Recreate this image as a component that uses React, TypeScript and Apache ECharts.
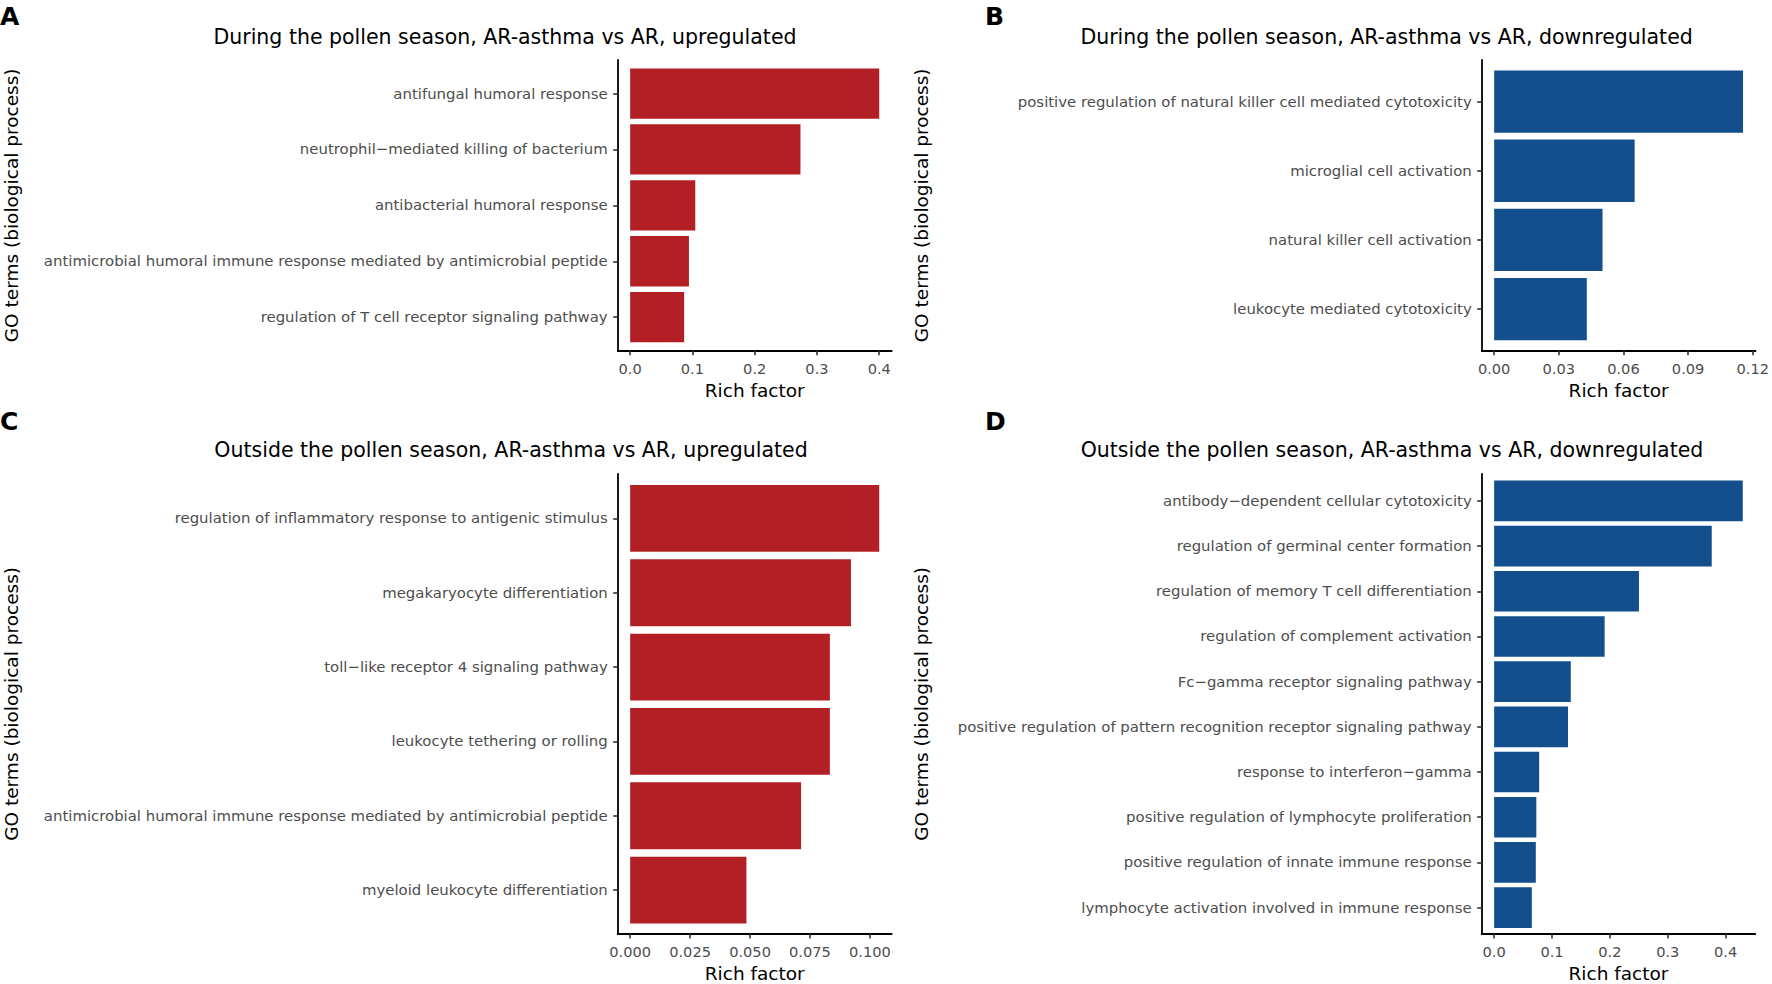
import React, { useEffect, useRef } from "react";
import * as echarts from "echarts";

const FONT = "DejaVu Sans";

// Panel A
const catsA = [
  "antifungal humoral response",
  "neutrophil−mediated killing of bacterium",
  "antibacterial humoral response",
  "antimicrobial humoral immune response mediated by antimicrobial peptide",
  "regulation of T cell receptor signaling pathway",
];
const valsA = [0.4, 0.2735, 0.1046, 0.0944, 0.0867];
const ticksA = [0, 0.1, 0.2, 0.3, 0.4];
const tickLabelsA = ["0.0", "0.1", "0.2", "0.3", "0.4"];

// Panel B
const catsB = [
  "positive regulation of natural killer cell mediated cytotoxicity",
  "microglial cell activation",
  "natural killer cell activation",
  "leukocyte mediated cytotoxicity",
];
const valsB = [0.1155, 0.0652, 0.0503, 0.043];
const ticksB = [0, 0.03, 0.06, 0.09, 0.12];
const tickLabelsB = ["0.00", "0.03", "0.06", "0.09", "0.12"];

// Panel C
const catsC = [
  "regulation of inflammatory response to antigenic stimulus",
  "megakaryocyte differentiation",
  "toll−like receptor 4 signaling pathway",
  "leukocyte tethering or rolling",
  "antimicrobial humoral immune response mediated by antimicrobial peptide",
  "myeloid leukocyte differentiation",
];
const valsC = [0.1039, 0.0921, 0.0833, 0.0833, 0.0713, 0.0485];
const ticksC = [0, 0.025, 0.05, 0.075, 0.1];
const tickLabelsC = ["0.000", "0.025", "0.050", "0.075", "0.100"];

// Panel D
const catsD = [
  "antibody−dependent cellular cytotoxicity",
  "regulation of germinal center formation",
  "regulation of memory T cell differentiation",
  "regulation of complement activation",
  "Fc−gamma receptor signaling pathway",
  "positive regulation of pattern recognition receptor signaling pathway",
  "response to interferon−gamma",
  "positive regulation of lymphocyte proliferation",
  "positive regulation of innate immune response",
  "lymphocyte activation involved in immune response",
];
const valsD = [0.4295, 0.3759, 0.2502, 0.1909, 0.1324, 0.1276, 0.0778, 0.0729, 0.072, 0.0651];
const ticksD = [0, 0.1, 0.2, 0.3, 0.4];
const tickLabelsD = ["0.0", "0.1", "0.2", "0.3", "0.4"];

const titles = [
  "During the pollen season, AR-asthma vs AR, upregulated",
  "During the pollen season, AR-asthma vs AR, downregulated",
  "Outside the pollen season, AR-asthma vs AR, upregulated",
  "Outside the pollen season, AR-asthma vs AR, downregulated",
];
const letters = ["A", "B", "C", "D"];
const xTitle = "Rich factor";
const yTitle = "GO terms (biological process)";

const RED = "#B22025";
const BLUE = "#124F8C";

type Panel = {
  cats: string[];
  vals: number[];
  ticks: number[];
  tickLabels: string[];
  color: string;
  box: [number, number, number, number];
  titleX: number;
  titleY: number;
  letterX: number;
  letterY: number;
  yTitleX: number;
};

const panels: Panel[] = [
  { cats: catsA, vals: valsA, ticks: ticksA, tickLabels: tickLabelsA, color: RED, box: [617.7, 60, 891.7, 350.7], titleX: 505, titleY: 36.8, letterX: 0, letterY: 16.5, yTitleX: 12 },
  { cats: catsB, vals: valsB, ticks: ticksB, tickLabels: tickLabelsB, color: BLUE, box: [1481.7, 60, 1755.5, 350.7], titleX: 1386.6, titleY: 36.8, letterX: 985, letterY: 16.3, yTitleX: 922 },
  { cats: catsC, vals: valsC, ticks: ticksC, tickLabels: tickLabelsC, color: RED, box: [617.7, 473.8, 891.7, 934.7], titleX: 511, titleY: 450, letterX: 0, letterY: 421.5, yTitleX: 12 },
  { cats: catsD, vals: valsD, ticks: ticksD, tickLabels: tickLabelsD, color: BLUE, box: [1481.7, 473.8, 1755.2, 934.7], titleX: 1392, titleY: 450, letterX: 985, letterY: 421.5, yTitleX: 922 },
];

function buildOption() {
  const grid: any[] = [];
  const xAxis: any[] = [];
  const yAxis: any[] = [];
  const series: any[] = [];
  const graphic: any[] = [];
  const axisLineStyle = { color: "#000", width: 1.8 };
  const tickLineStyle = { color: "#333", width: 1.6 };
  const tickFont = { fontSize: 14.6, color: "#4D4D4D", fontFamily: FONT };
  const catFont = { fontSize: 14.9, color: "#4D4D4D", fontFamily: FONT };
  const titleFont = { fontSize: 18.5, color: "#000", fontFamily: FONT };

  panels.forEach((p, i) => {
    const [l, t, r, b] = p.box;
    const H = b - t;
    const n = p.cats.length;
    const unit = H / (n + 0.2);
    const maxV = Math.max(...p.vals);
    const min = -0.05 * maxV;
    const max = maxV * 1.05;

    grid.push({ left: l, top: t, width: r - l, height: H, containLabel: false });
    grid.push({ left: l, top: t + 0.1 * unit, width: r - l, height: n * unit, containLabel: false });

    const fmt = (v: number) => {
      const k = p.ticks.findIndex((tk) => Math.abs(tk - v) < 1e-9);
      return k >= 0 ? p.tickLabels[k] : "";
    };

    xAxis.push({
      gridIndex: 2 * i,
      type: "value",
      min,
      max,
      axisLine: { show: true, onZero: false, lineStyle: axisLineStyle },
      axisTick: { show: true, customValues: p.ticks, length: 4.5, lineStyle: tickLineStyle },
      axisLabel: { show: true, customValues: p.ticks, formatter: fmt, margin: 10, ...tickFont },
      splitLine: { show: false },
      name: xTitle,
      nameLocation: "middle",
      nameGap: 30,
      nameTextStyle: titleFont,
    });
    xAxis.push({ gridIndex: 2 * i + 1, type: "value", min, max, show: false });

    yAxis.push({
      gridIndex: 2 * i,
      type: "value",
      min: 0,
      max: 1,
      axisLine: { show: true, onZero: false, lineStyle: axisLineStyle },
      axisTick: { show: false },
      axisLabel: { show: false },
      splitLine: { show: false },
      name: yTitle,
      nameLocation: "middle",
      nameRotate: 90,
      nameGap: l - p.yTitleX - 9.2,
      nameTextStyle: titleFont,
    });
    yAxis.push({
      gridIndex: 2 * i + 1,
      type: "category",
      data: p.cats,
      inverse: true,
      axisLine: { show: false, onZero: false },
      axisTick: { show: true, alignWithLabel: true, length: 4.5, lineStyle: tickLineStyle },
      axisLabel: { interval: 0, margin: 10, ...catFont },
      splitLine: { show: false },
    });

    series.push({
      type: "bar",
      xAxisIndex: 2 * i + 1,
      yAxisIndex: 2 * i + 1,
      data: p.vals,
      barCategoryGap: "10%",
      itemStyle: { color: p.color },
      silent: true,
    });

    graphic.push({
      type: "text",
      x: p.titleX,
      y: p.titleY,
      style: { text: titles[i], fontSize: 20.5, fontFamily: FONT, fill: "#000", align: "center", verticalAlign: "middle" },
    });
    graphic.push({
      type: "text",
      x: p.letterX,
      y: p.letterY,
      style: { text: letters[i], fontSize: 25, fontWeight: "bold", fontFamily: FONT, fill: "#000", align: "left", verticalAlign: "middle" },
    });
  });

  return {
    animation: false,
    backgroundColor: "#ffffff",
    grid,
    xAxis,
    yAxis,
    series,
    graphic,
  };
}

export default function App() {
  const ref = useRef<HTMLDivElement>(null);
  useEffect(() => {
    if (!ref.current) return;
    const chart = echarts.init(ref.current, undefined, { renderer: "svg" });
    chart.setOption(buildOption() as any);
    return () => chart.dispose();
  }, []);
  return (
    <div
      ref={ref}
      style={{ position: "absolute", left: 0, top: 0, width: 1772, height: 984, background: "#fff" }}
    />
  );
}
